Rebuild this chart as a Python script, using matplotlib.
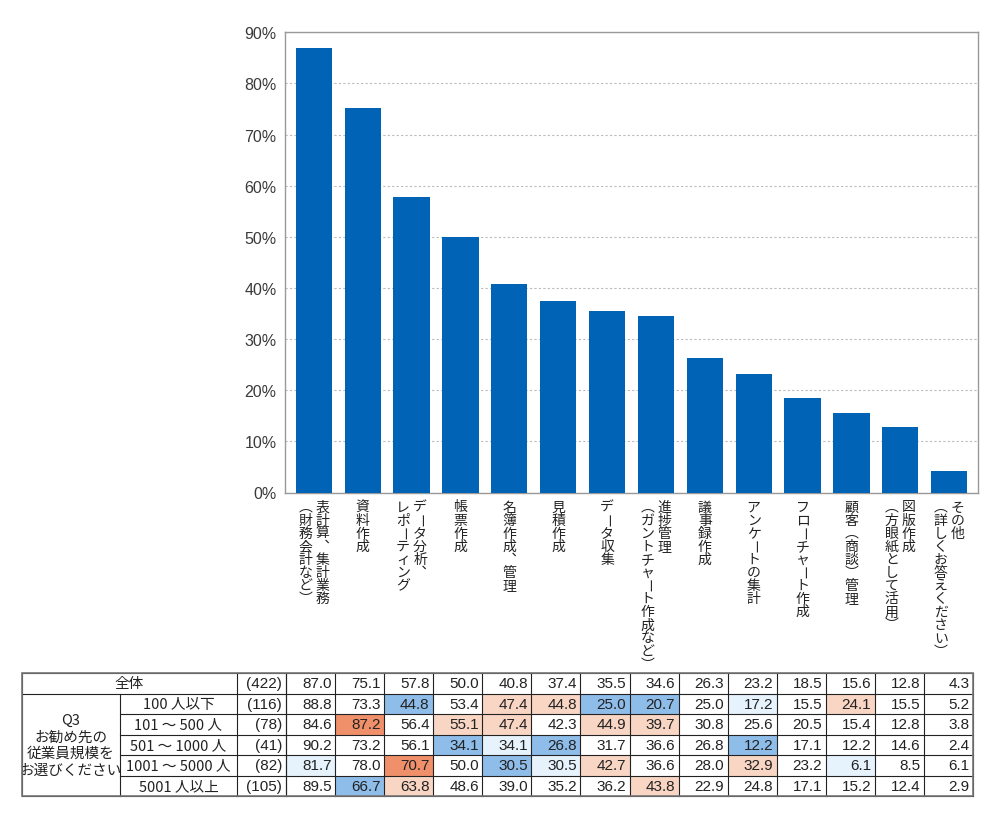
import matplotlib
matplotlib.use('Agg')
import matplotlib.pyplot as plt
from matplotlib.patches import Rectangle

plt.rcParams['font.family'] = ['Noto Sans CJK JP', 'DejaVu Sans']
NUM_FONT = ['Liberation Sans', 'Noto Sans CJK JP']

# ---- data ----
categories = [
    '表計算、集計業務\n(財務会計など)',
    '資料作成',
    'データ分析、\nレポーティング',
    '帳票作成',
    '名簿作成、管理',
    '見積作成',
    'データ収集',
    '進捗管理\n(ガントチャート作成など)',
    '議事録作成',
    'アンケートの集計',
    'フローチャート作成',
    '顧客(商談)管理',
    '図版作成\n(方眼紙として活用)',
    'その他\n(詳しくお答えください)',
]
overall = [87.0, 75.1, 57.8, 50.0, 40.8, 37.4, 35.5, 34.6, 26.3, 23.2, 18.5, 15.6, 12.8, 4.3]

group_title = 'Q3\nお勧め先の\n従業員規模を\nお選びください'
row_labels = ['全体', '100 人以下', '101 ～ 500 人', '501 ～ 1000 人', '1001 ～ 5000 人', '5001 人以上']
row_n = [422, 116, 78, 41, 82, 105]
rows = [
    overall,
    [88.8, 73.3, 44.8, 53.4, 47.4, 44.8, 25.0, 20.7, 25.0, 17.2, 15.5, 24.1, 15.5, 5.2],
    [84.6, 87.2, 56.4, 55.1, 47.4, 42.3, 44.9, 39.7, 30.8, 25.6, 20.5, 15.4, 12.8, 3.8],
    [90.2, 73.2, 56.1, 34.1, 34.1, 26.8, 31.7, 36.6, 26.8, 12.2, 17.1, 12.2, 14.6, 2.4],
    [81.7, 78.0, 70.7, 50.0, 30.5, 30.5, 42.7, 36.6, 28.0, 32.9, 23.2, 6.1, 8.5, 6.1],
    [89.5, 66.7, 63.8, 48.6, 39.0, 35.2, 36.2, 43.8, 22.9, 24.8, 17.1, 15.2, 12.4, 2.9],
]
# highlight levels vs. total: 2 much higher, 1 higher, -1 lower, -2 much lower
levels = [
    [0] * 14,
    [0, 0, -2, 0, 1, 1, -2, -2, 0, -1, 0, 1, 0, 0],
    [0, 2, 0, 1, 1, 0, 1, 1, 0, 0, 0, 0, 0, 0],
    [0, 0, 0, -2, -1, -2, 0, 0, 0, -2, 0, 0, 0, 0],
    [-1, 0, 2, 0, -2, -1, 1, 0, 0, 1, 0, -1, 0, 0],
    [0, -2, 1, 0, 0, 0, 0, 1, 0, 0, 0, 0, 0, 0],
]

level_colors = {2: '#f0906a', 1: '#f9d5c3', -1: '#e6f2fc', -2: '#8ebdea', 0: 'white'}
# vertical-writing forms; the long vowel mark is rotated instead
VERT = {'(': '︵', ')': '︶', '、': '︑'}

W, H = 1000, 829
fig = plt.figure(figsize=(W / 100, H / 100), dpi=100)


def px_box(x0, y0, x1, y1):
    return [x0 / W, (H - y1) / H, (x1 - x0) / W, (y1 - y0) / H]


# ---- bar chart ----
ax = fig.add_axes(px_box(285, 33.3, 978, 493.5))
x = list(range(len(overall)))
ax.bar(x, overall, width=0.74, color='#0063b5', zorder=3)
ax.set_xlim(-0.59, 13.59)
ax.set_ylim(0, 90)
ax.set_yticks(range(0, 91, 10))
ax.set_yticklabels([f'{v}%' for v in range(0, 91, 10)], fontsize=11.5, color='#3a3a3a',
                   family=NUM_FONT)
ax.tick_params(axis='y', length=0, pad=6)
ax.set_xticks([])
ax.yaxis.grid(True, linestyle=(0, (2, 2)), color='#bbbbbb', linewidth=0.8, zorder=0)
for s in ax.spines.values():
    s.set_color('#999999')
    s.set_linewidth(1.0)


def draw_vertical(ax, xc, text):
    lines = text.split('\n')
    n = len(lines)
    for i, line in enumerate(lines):
        dx = (n - 1) / 2 * 17 - i * 17
        for k, ch in enumerate(line):
            ax.annotate(VERT.get(ch, ch), xy=(xc, 0), xycoords=('data', 'axes fraction'),
                        xytext=(dx * 0.72, -(14 + k * 13.1) * 0.72),
                        textcoords='offset points', ha='center', va='center',
                        rotation=-90 if ch == 'ー' else 0, rotation_mode='anchor',
                        fontsize=10, color='#222222', annotation_clip=False)


for i, c in enumerate(categories):
    draw_vertical(ax, i, c)

# ---- table ----
tx0, tx1, ty0, ty1 = 22, 973, 674, 797
tab = fig.add_axes(px_box(tx0, ty0, tx1, ty1))
tab.set_xlim(tx0, tx1)
tab.set_ylim(6, 0)
tab.axis('off')

dw = (tx1 - 286) / 14
data_edges = [286 + dw * k for k in range(15)]
txt = dict(va='center', color='#222222', zorder=3)

for r in range(6):
    for c in range(14):
        fc = level_colors[levels[r][c]]
        if fc != 'white':
            tab.add_patch(Rectangle((data_edges[c], r), dw, 1, facecolor=fc, edgecolor='none', zorder=1))
        tab.text(data_edges[c + 1] - 3.5, r + 0.5, f'{rows[r][c]:.1f}', ha='right',
                 fontsize=11, family=NUM_FONT, **txt)
    tab.text(286 - 4, r + 0.5, f'({row_n[r]})', ha='right', fontsize=11, family=NUM_FONT, **txt)
    if r == 0:
        tab.text((22 + 237) / 2, r + 0.5, row_labels[r], ha='center', fontsize=10.5, **txt)
    else:
        tab.text((120 + 237) / 2, r + 0.5, row_labels[r], ha='center', fontsize=10.5, **txt)
tab.text((22 + 120) / 2, 3.5, group_title, ha='center', fontsize=10.5, linespacing=1.25, **txt)

lc = '#222222'
lw = 0.8
for r in range(7):
    xstart = 22 if r in (0, 1, 6) else 120
    tab.plot([xstart, tx1], [r, r], color=lc, lw=lw, zorder=2, clip_on=False)
tab.plot([120, 120], [1, 6], color=lc, lw=lw, zorder=2, clip_on=False)
for xe in [22, 237, 286] + data_edges:
    tab.plot([xe, xe], [0, 6], color=lc, lw=lw, zorder=2, clip_on=False)
tab.add_patch(Rectangle((tx0, 0), tx1 - tx0, 6, fill=False, edgecolor='#777777', lw=1.2,
                        zorder=4, clip_on=False))

fig.savefig('out.png', dpi=100)
